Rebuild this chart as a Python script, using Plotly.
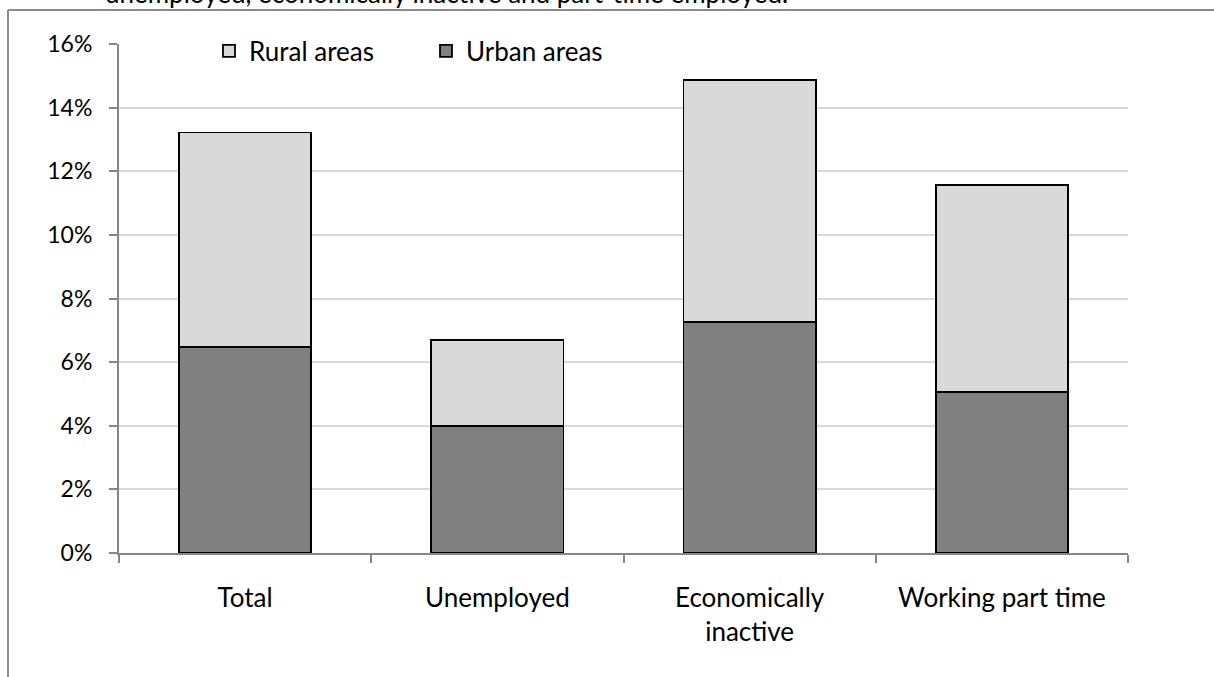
import plotly.graph_objects as go

# Share of population by labour-market status, split by area type (%)
categories = ["Total", "Unemployed", "Economically<br>inactive", "Working part time"]
urban_share = [6.47, 3.98, 7.25, 5.05]
rural_share = [6.75, 2.72, 7.62, 6.51]
y_ticks = [0, 2, 4, 6, 8, 10, 12, 14, 16]
y_tick_labels = [f"{v}%" for v in y_ticks]

FONT = "Lato, 'Open Sans', sans-serif"
AXIS_GREY = "#868686"
FRAME_GREY = "#8c8c8c"

fig = go.Figure()
fig.add_trace(go.Bar(
    name="Urban areas", x=categories, y=urban_share,
    marker=dict(color="#808080", line=dict(color="#000000", width=1.8)),
))
fig.add_trace(go.Bar(
    name="Rural areas", x=categories, y=rural_share,
    marker=dict(color="#d9d9d9", line=dict(color="#000000", width=1.8)),
))

W, H = 1214, 677
L, R, T, B = 119, 86, 44, 124
pw, ph = W - L - R, H - T - B


def px_x(p):
    return (p - L) / pw


def px_y(p):
    return (H - B - p) / ph


fig.update_layout(
    width=W, height=H,
    margin=dict(l=L, r=R, t=T, b=B),
    paper_bgcolor="white", plot_bgcolor="white",
    barmode="stack", bargap=0.476,
    font=dict(family=FONT, size=26, color="#000000"),
    showlegend=True,
    legend=dict(
        orientation="h", traceorder="reversed",
        x=px_x(209), y=px_y(51), xanchor="left", yanchor="middle",
        font=dict(size=26), bgcolor="rgba(0,0,0,0)",
        itemwidth=30, entrywidth=172, entrywidthmode="pixels",
    ),
    xaxis=dict(
        showline=True, linecolor=AXIS_GREY, linewidth=2,
        ticks="outside", tickson="boundaries", ticklen=8, tickcolor=AXIS_GREY, tickwidth=2,
        showgrid=False, tickfont=dict(size=26), ticklabelstandoff=21,
    ),
    yaxis=dict(
        range=[0, 16], tickvals=y_ticks, ticktext=y_tick_labels,
        showline=True, linecolor=AXIS_GREY, linewidth=2,
        ticks="outside", ticklen=8, tickcolor=AXIS_GREY, tickwidth=2,
        showgrid=True, gridcolor="#d9d9d9", gridwidth=1.5,
        zeroline=False, tickfont=dict(size=23), ticklabelstandoff=12,
    ),
    shapes=[
        dict(type="line", xref="paper", yref="paper",
             x0=px_x(8), x1=px_x(W + 5), y0=px_y(10), y1=px_y(10),
             line=dict(color=FRAME_GREY, width=2)),
        dict(type="line", xref="paper", yref="paper",
             x0=px_x(8), x1=px_x(8), y0=px_y(10), y1=px_y(H + 5),
             line=dict(color=FRAME_GREY, width=2)),
    ],
    annotations=[
        dict(text="unemployed, economically inactive and part-time employed.",
             xref="paper", yref="paper", x=px_x(103), y=px_y(11),
             xanchor="left", yanchor="bottom", showarrow=False,
             font=dict(size=26, family=FONT)),
    ],
)

fig.write_html("out.html")
